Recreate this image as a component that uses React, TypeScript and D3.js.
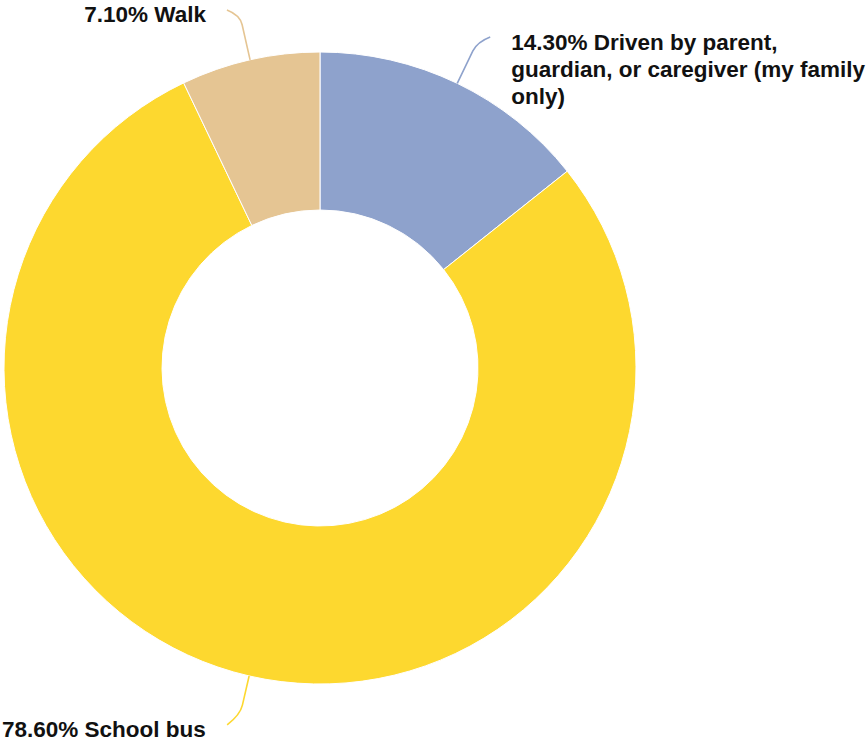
import React from "react";
import * as d3 from "d3";

const categories = ["Driven by parent, guardian, or caregiver (my family only)", "School bus", "Walk"];
const values = [14.3, 78.6, 7.1];
const labelLines = [
  ["14.30% Driven by parent,", "guardian, or caregiver (my family", "only)"],
  ["78.60% School bus"],
  ["7.10% Walk"],
];
const colors = ["#8EA2CC", "#FDD82F", "#E5C593"];

const W = 866, H = 741;
const cx = 320, cy = 368, R = 316, r0 = 158;

export default function App() {
  const pie = d3.pie<number>().sort(null).value((d) => d)(values);
  const arc = d3.arc<d3.PieArcDatum<number>>().innerRadius(r0).outerRadius(R);
  const pt = (a: number, rad: number) => [Math.sin(a) * rad, -Math.cos(a) * rad];
  return (
    <svg width={W} height={H} style={{ position: "absolute", left: 0, top: 0 }} fontFamily="'Liberation Sans', Arial, Helvetica, sans-serif">
      <g transform={`translate(${cx},${cy})`}>
        {pie.map((d, i) => (
          <path key={i} d={arc(d) || ""} fill={colors[i]} stroke="#fff" strokeWidth={1} />
        ))}
        {pie.map((d, i) => {
          const a = (d.startAngle + d.endAngle) / 2;
          const top = Math.cos(a) > 0;
          const right = Math.sin(a) > 0;
          const ext = top ? 46 : 40;
          const p0 = pt(a, R);
          const pA = pt(a, R + ext - 10);
          const pC = pt(a, R + ext);
          const pE = [pC[0] + (right ? 13 : -13), pC[1] + (top ? -5 : 10)];
          const lines = labelLines[i];
          let txx: number, ty: number, anchor: string;
          if (i === 0) { txx = pE[0] + 21; ty = pE[1] + 13; anchor = "start"; }
          else if (i === 2) { txx = pE[0] - 21; ty = pE[1] + 12; anchor = "end"; }
          else { txx = -cx + 2; ty = pE[1] + 12; anchor = "start"; }
          return (
            <g key={"l" + i}>
              <path
                d={`M${p0[0]},${p0[1]} L${pA[0]},${pA[1]} Q${pC[0]},${pC[1]} ${pE[0]},${pE[1]}`}
                fill="none"
                stroke={colors[i]}
                strokeWidth={1.6}
              />
              <text x={txx} y={ty} textAnchor={anchor} fontWeight="bold" fontSize={22.5} fill="#111">
                {lines.map((l, j) => (
                  <tspan key={j} x={txx} dy={j === 0 ? 0 : 27}>{l}</tspan>
                ))}
              </text>
            </g>
          );
        })}
      </g>
    </svg>
  );
}
